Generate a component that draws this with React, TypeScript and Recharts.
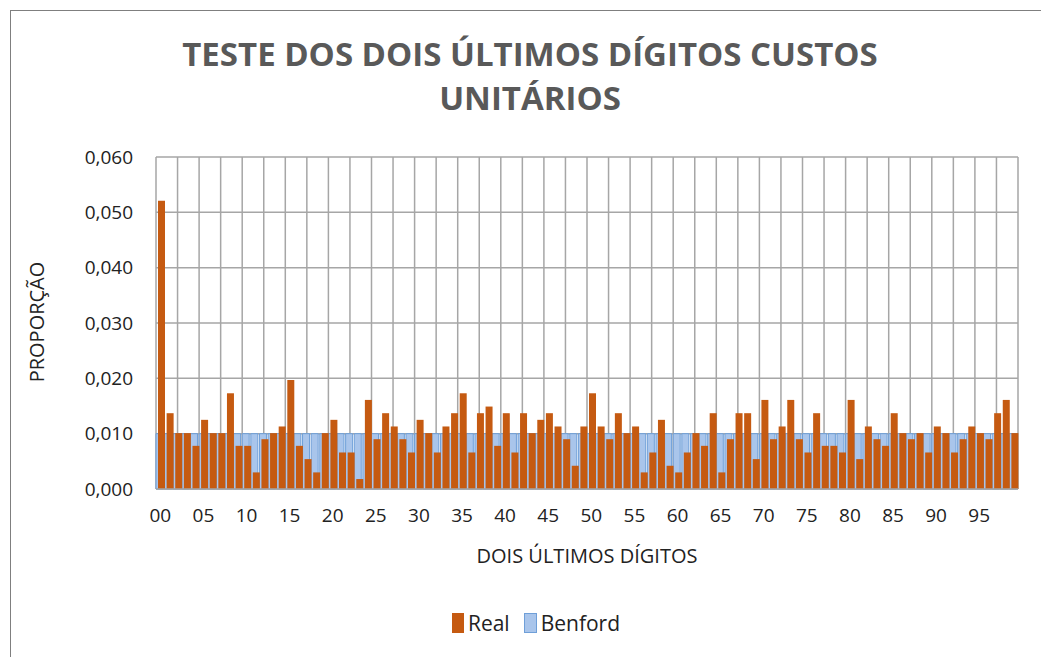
import React from 'react';
import { BarChart, Bar, XAxis, YAxis, CartesianGrid } from 'recharts';

const digits = [
  '00', '01', '02', '03', '04', '05', '06', '07', '08', '09',
  '10', '11', '12', '13', '14', '15', '16', '17', '18', '19',
  '20', '21', '22', '23', '24', '25', '26', '27', '28', '29',
  '30', '31', '32', '33', '34', '35', '36', '37', '38', '39',
  '40', '41', '42', '43', '44', '45', '46', '47', '48', '49',
  '50', '51', '52', '53', '54', '55', '56', '57', '58', '59',
  '60', '61', '62', '63', '64', '65', '66', '67', '68', '69',
  '70', '71', '72', '73', '74', '75', '76', '77', '78', '79',
  '80', '81', '82', '83', '84', '85', '86', '87', '88', '89',
  '90', '91', '92', '93', '94', '95', '96', '97', '98', '99',
];

const real = [
  0.0521, 0.0137, 0.0101, 0.0101, 0.0078, 0.0125, 0.0101, 0.0101, 0.0173, 0.0078,
  0.0078, 0.0030, 0.0090, 0.0101, 0.0113, 0.0197, 0.0078, 0.0054, 0.0030, 0.0101,
  0.0125, 0.0066, 0.0066, 0.0018, 0.0161, 0.0090, 0.0137, 0.0113, 0.0090, 0.0066,
  0.0125, 0.0101, 0.0066, 0.0113, 0.0137, 0.0173, 0.0066, 0.0137, 0.0149, 0.0078,
  0.0137, 0.0066, 0.0137, 0.0101, 0.0125, 0.0137, 0.0113, 0.0090, 0.0042, 0.0113,
  0.0173, 0.0113, 0.0090, 0.0137, 0.0101, 0.0113, 0.0030, 0.0066, 0.0125, 0.0042,
  0.0030, 0.0066, 0.0101, 0.0078, 0.0137, 0.0030, 0.0090, 0.0137, 0.0137, 0.0054,
  0.0161, 0.0090, 0.0113, 0.0161, 0.0090, 0.0066, 0.0137, 0.0078, 0.0078, 0.0066,
  0.0161, 0.0054, 0.0113, 0.0090, 0.0078, 0.0137, 0.0101, 0.0090, 0.0101, 0.0066,
  0.0113, 0.0101, 0.0066, 0.0090, 0.0113, 0.0101, 0.0090, 0.0137, 0.0161, 0.0101,
];

const benford = [
  0.01, 0.01, 0.01, 0.01, 0.01, 0.01, 0.01, 0.01, 0.01, 0.01,
  0.01, 0.01, 0.01, 0.01, 0.01, 0.01, 0.01, 0.01, 0.01, 0.01,
  0.01, 0.01, 0.01, 0.01, 0.01, 0.01, 0.01, 0.01, 0.01, 0.01,
  0.01, 0.01, 0.01, 0.01, 0.01, 0.01, 0.01, 0.01, 0.01, 0.01,
  0.01, 0.01, 0.01, 0.01, 0.01, 0.01, 0.01, 0.01, 0.01, 0.01,
  0.01, 0.01, 0.01, 0.01, 0.01, 0.01, 0.01, 0.01, 0.01, 0.01,
  0.01, 0.01, 0.01, 0.01, 0.01, 0.01, 0.01, 0.01, 0.01, 0.01,
  0.01, 0.01, 0.01, 0.01, 0.01, 0.01, 0.01, 0.01, 0.01, 0.01,
  0.01, 0.01, 0.01, 0.01, 0.01, 0.01, 0.01, 0.01, 0.01, 0.01,
  0.01, 0.01, 0.01, 0.01, 0.01, 0.01, 0.01, 0.01, 0.01, 0.01,
];

const yTicks = [0, 0.01, 0.02, 0.03, 0.04, 0.05, 0.06];

const data = digits.map((d, i) => ({ d, real: real[i], benford: benford[i] }));

const FONT = '"Open Sans", sans-serif';
const ORANGE = '#C55A11';
const GRID = '#A6A6A6';

// excel puts the vertical lines every 2.5 categories (40 intervals)
const vLines = ({ offset }: any) => {
  const out: number[] = [];
  for (let i = 0; i <= 40; i++) out.push(offset.left + (offset.width * i) / 40);
  return out;
};

export default function App() {
  return (
    <div style={{ position: 'fixed', left: 0, top: 0, width: 1041, height: 657, overflow: 'hidden', background: '#fff', fontFamily: FONT }}>
      <div style={{ position: 'absolute', left: 10, top: 10, width: 1100, height: 700, border: '1.5px solid #7F7F7F' }} />
      <div style={{ position: 'absolute', left: 0, width: 1060, top: 32, textAlign: 'center', fontSize: 33, fontWeight: 700, color: '#595959', lineHeight: '44px' }}>
        TESTE DOS DOIS ÚLTIMOS DÍGITOS CUSTOS
        <br />
        UNITÁRIOS
      </div>
      <BarChart
        width={1041}
        height={657}
        data={data}
        margin={{ top: 157, right: 23, bottom: 0, left: 0 }}
        barCategoryGap={0}
        barGap={-5}
        style={{ position: 'absolute', left: 0, top: 0 }}
      >
        <CartesianGrid stroke={GRID} strokeWidth={1.5} verticalCoordinatesGenerator={vLines} />
        <YAxis
          width={156}
          domain={[0, 0.06]}
          ticks={yTicks}
          tickFormatter={(v: number) => v.toFixed(3).replace('.', ',')}
          axisLine={false}
          tickLine={false}
          tickSize={0}
          tickMargin={23}
          tick={{ fill: '#222', fontSize: 19, fontFamily: FONT }}
        />
        <XAxis
          dataKey="d"
          height={168}
          interval={4}
          axisLine={{ stroke: GRID, strokeWidth: 1.5 }}
          tickLine={false}
          tickSize={0}
          tickMargin={20}
          tick={{ fill: '#222', fontSize: 19, fontFamily: FONT }}
        />
        <Bar dataKey="benford" fill="#A9C5EB" stroke="#6F9FD8" strokeWidth={1} isAnimationActive={false} />
        <Bar dataKey="real" fill={ORANGE} isAnimationActive={false} />
      </BarChart>
      <div style={{ position: 'absolute', left: 18, top: 322, width: 0, height: 0 }}>
        <div style={{ position: 'absolute', transform: 'translate(-50%, -50%) rotate(-90deg)', whiteSpace: 'nowrap', fontSize: 20, color: '#222', left: 18 }}>
          PROPORÇÃO
        </div>
      </div>
      <div style={{ position: 'absolute', left: 156, width: 862, top: 542, textAlign: 'center', fontSize: 20, color: '#222' }}>
        DOIS ÚLTIMOS DÍGITOS
      </div>
      <div style={{ position: 'absolute', left: 0, width: 1072, top: 609, display: 'flex', justifyContent: 'center', alignItems: 'center', fontSize: 21, color: '#222' }}>
        <span style={{ display: 'inline-block', width: 12, height: 20, background: ORANGE, marginRight: 4 }} />
        <span style={{ marginRight: 14 }}>Real</span>
        <span style={{ display: 'inline-block', width: 11, height: 18, background: '#A9C5EB', border: '1px solid #6F9FD8', marginRight: 4 }} />
        <span>Benford</span>
      </div>
    </div>
  );
}
